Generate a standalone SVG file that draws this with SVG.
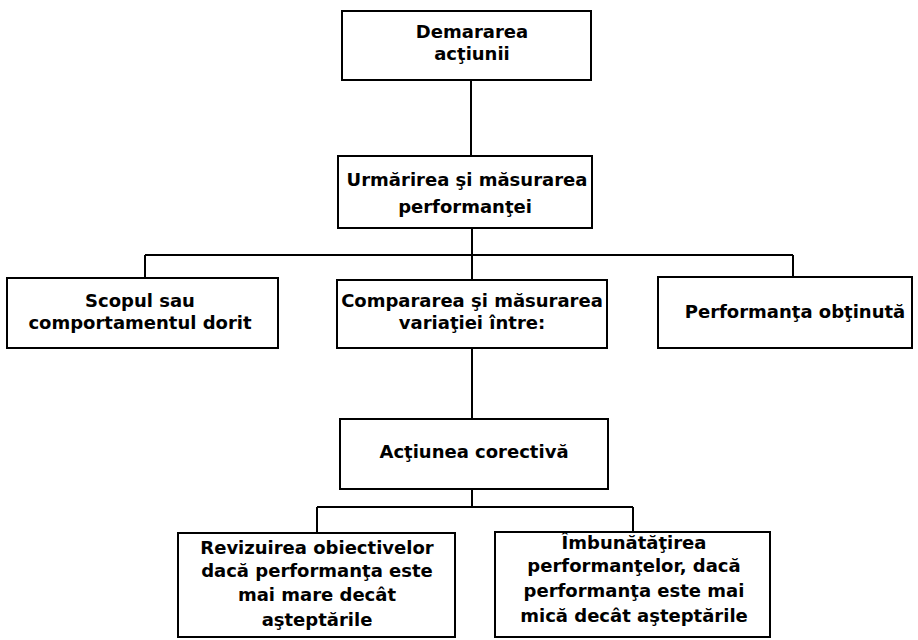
<svg xmlns="http://www.w3.org/2000/svg" width="918" height="640" viewBox="0 0 918 640">
<style>
.box{fill:#fff;stroke:#000;stroke-width:2}
.ln{fill:none;stroke:#000;stroke-width:2}
text{font-family:"DejaVu Sans","Liberation Sans",sans-serif;font-weight:bold;font-size:18px;fill:#000;text-anchor:middle}
</style>
<rect width="918" height="640" fill="#fff"/>
<g id="connectors">
<path class="ln" d="M471 80V155"/>
<path class="ln" d="M472 228V255M145 255H793M145 255V278M472 255V280M793 255V277"/>
<path class="ln" d="M472 348V419"/>
<path class="ln" d="M472 489V507M317 507H633M317 507V533M633 507V532"/>
</g>
<g id="n1"><rect class="box" x="342" y="11" width="249" height="69"/><text x="472" y="38">Demararea</text><text x="472" y="60">acţiunii</text></g>
<g id="n2"><rect class="box" x="338" y="156" width="254" height="72"/><text x="467" y="186">Urmărirea şi măsurarea</text><text x="465" y="213">performanţei</text></g>
<g id="n3"><rect class="box" x="7" y="278" width="271" height="70"/><text x="140" y="307">Scopul sau</text><text x="140" y="329">comportamentul dorit</text></g>
<g id="n4"><rect class="box" x="337" y="280" width="270" height="68"/><text x="472" y="307">Compararea şi măsurarea</text><text x="472" y="329">variaţiei între:</text></g>
<g id="n5"><rect class="box" x="658" y="277" width="254" height="71"/><text x="795" y="318">Performanţa obţinută</text></g>
<g id="n6"><rect class="box" x="340" y="419" width="268" height="70"/><text x="474" y="458">Acţiunea corectivă</text></g>
<g id="n7"><rect class="box" x="178" y="533" width="277" height="104"/><text x="317" y="554">Revizuirea obiectivelor</text><text x="317" y="577">dacă performanţa este</text><text x="317" y="601">mai mare decât</text><text x="317" y="626">aşteptările</text></g>
<g id="n8"><rect class="box" x="495" y="532" width="275" height="105"/><text x="634" y="549">Îmbunătăţirea</text><text x="634" y="572">performanţelor, dacă</text><text x="634" y="597">performanţa este mai</text><text x="634" y="622">mică decât aşteptările</text></g>
</svg>
